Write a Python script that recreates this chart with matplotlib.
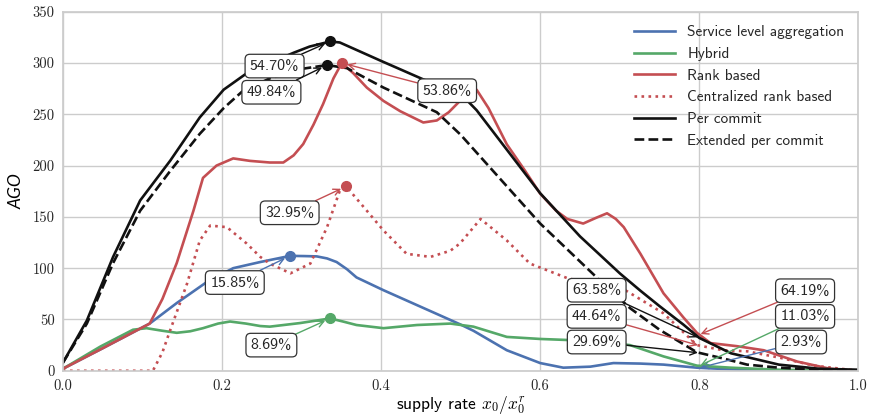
import numpy as np
import matplotlib.pyplot as plt

# AGO vs supply rate
x_service = [0, 0.05, 0.109, 0.143, 0.181, 0.214, 0.248, 0.2855, 0.303, 0.319, 0.332, 0.344,
             0.357, 0.369, 0.403, 0.445, 0.474, 0.5, 0.516, 0.558, 0.6, 0.629, 0.663, 0.692,
             0.726, 0.755, 0.797, 0.85, 0.9, 1.0]
y_service = [2, 22, 46, 66, 86.6, 100, 106, 112, 111.8, 111.5, 109.5, 106,
             99, 91, 78.5, 64, 54, 45, 39, 20, 7.5, 3, 4, 7.5,
             7, 6, 3, 1, 0.5, 0]

x_hybrid = [0, 0.047, 0.088, 0.105, 0.125, 0.143, 0.16, 0.176, 0.195, 0.21, 0.23, 0.248,
            0.26, 0.298, 0.336, 0.352, 0.369, 0.403, 0.445, 0.487, 0.516, 0.558, 0.6, 0.634,
            0.68, 0.713, 0.755, 0.797, 0.84, 0.9, 1.0]
y_hybrid = [2, 23.6, 40, 41.5, 39, 37, 38.5, 41.5, 46, 48, 46, 43.6,
            43, 46.5, 51, 48, 44.6, 41.5, 44.6, 46, 43, 33, 31, 30,
            28, 25, 14, 5, 3, 1, 0]

x_rank = [0, 0.05, 0.109, 0.125, 0.143, 0.164, 0.176, 0.193, 0.214, 0.235, 0.26, 0.277,
          0.29, 0.302, 0.315, 0.327, 0.34, 0.3505, 0.365, 0.382, 0.403, 0.424, 0.453, 0.47,
          0.485, 0.499, 0.52, 0.535, 0.558, 0.58, 0.6, 0.62, 0.634, 0.654, 0.67, 0.684,
          0.695, 0.705, 0.726, 0.755, 0.78, 0.797, 0.814, 0.847, 0.881, 0.923, 0.964, 1.0]
y_rank = [2, 22, 46, 70, 105, 156, 188, 200, 207, 204.6, 203, 203,
          210, 221, 240, 260, 285, 300, 290, 276, 263, 253, 242, 244,
          252, 263, 274, 256, 220.7, 196, 172.6, 156, 148, 143.5, 149, 153.5,
          148, 140, 114, 75.5, 52, 37, 27, 24, 20, 9, 2, 0]

x_central = [0, 0.113, 0.125, 0.135, 0.156, 0.172, 0.185, 0.206, 0.231, 0.248, 0.26, 0.286,
             0.311, 0.332, 0.348, 0.356, 0.382, 0.403, 0.432, 0.462, 0.487, 0.499, 0.525, 0.558,
             0.587, 0.635, 0.707, 0.755, 0.797, 0.83, 0.86, 0.902, 0.944, 1.0]
y_central = [0, 0, 18, 40, 85, 127, 141.5, 140, 124, 111, 104.5, 95,
             104.5, 140, 175.5, 179.7, 156, 136.7, 114, 111, 117, 124, 148, 127,
             104.5, 90, 78.5, 56, 25, 20, 19, 12.6, 5, 0]

x_commit = [0, 0.03, 0.063, 0.097, 0.135, 0.172, 0.202, 0.231, 0.26, 0.29, 0.31, 0.336,
            0.348, 0.4, 0.453, 0.5, 0.52, 0.6, 0.65, 0.7, 0.726, 0.75, 0.78, 0.8,
            0.84, 0.9, 0.95, 1.0]
y_commit = [8, 49, 111, 166, 205, 247, 274, 290, 300, 310, 316, 321,
            320, 302, 284, 270, 254, 173, 131, 95, 78, 63, 45, 32,
            17, 6, 2, 1]

x_ext = [0, 0.03, 0.063, 0.097, 0.135, 0.172, 0.202, 0.225, 0.26, 0.298, 0.332, 0.357,
         0.403, 0.47, 0.5, 0.537, 0.6, 0.675, 0.713, 0.75, 0.797, 0.83, 0.86, 0.9,
         0.95, 1.0]
y_ext = [8, 46, 105, 156, 195, 231, 256, 272, 285, 294, 298, 295,
         276, 252, 230, 198, 143.5, 88, 61, 40, 18, 12, 6, 3,
         1, 0.5]

labels = ['Service level aggregation', 'Hybrid', 'Rank based',
          'Centralized rank based', 'Per commit', 'Extended per commit']

# percentages at the peaks and at supply rate 0.8
peak_text = ['15.85%', '8.69%', '53.86%', '32.95%', '54.70%', '49.84%']
at08_text = ['2.93%', '11.03%', '64.19%', '44.64%', '63.58%', '29.69%']

plt.rcParams['font.family'] = 'cmss10'
plt.rcParams['mathtext.fontset'] = 'cm'
plt.rcParams['axes.formatter.use_mathtext'] = True
plt.rcParams['axes.unicode_minus'] = False
plt.rcParams['text.color'] = '.15'

blue = '#4C72B0'
green = '#55A868'
red = '#C44E52'
black = '#111111'

series = [
    (x_service, y_service, blue, '-'),
    (x_hybrid, y_hybrid, green, '-'),
    (x_rank, y_rank, red, '-'),
    (x_central, y_central, red, ':'),
    (x_commit, y_commit, black, '-'),
    (x_ext, y_ext, black, '--'),
]

fig = plt.figure(figsize=(8.75, 4.18), dpi=100)
ax = fig.add_axes([0.072, 0.113, 0.909, 0.859])

for (xs, ys, c, ls), lab in zip(series, labels):
    ax.plot(xs, ys, color=c, ls=ls, lw=1.9, label=lab)

# label positions (data coords) for the peak boxes and the x=0.8 boxes
peak_pos = [(0.216, 86), (0.262, 25), (0.483, 273), (0.285, 154), (0.266, 297), (0.262, 271.5)]
at08_pos = [(0.928, 28), (0.933, 53), (0.933, 78), (0.671, 53), (0.671, 78.5), (0.671, 28)]

box = dict(boxstyle='round,pad=0.3', fc='white', ec='.2', lw=0.9)

for (xs, ys, c, ls), txt, pos in zip(series, peak_text, peak_pos):
    i = int(np.argmax(ys))
    ax.plot(xs[i], ys[i], 'o', color=c, ms=7, zorder=4)
    ax.annotate(txt, xy=(xs[i], ys[i]), xytext=pos, ha='center', va='center',
                fontsize=11.5, bbox=box, zorder=5,
                arrowprops=dict(arrowstyle='->', color=c, lw=1, shrinkA=0, shrinkB=4))

for (xs, ys, c, ls), txt, pos in zip(series, at08_text, at08_pos):
    yv = np.interp(0.8, xs, ys)
    ax.annotate(txt, xy=(0.8, yv), xytext=pos, ha='center', va='center',
                fontsize=11.5, bbox=box, zorder=5,
                arrowprops=dict(arrowstyle='->', color=c, lw=1, shrinkA=0, shrinkB=1))

ax.set_xlim(0, 1)
ax.set_ylim(0, 350)
ax.set_xticks(np.arange(0, 1.01, 0.2))
ax.set_yticks(np.arange(0, 351, 50))
ax.set_xticklabels(['%.1f' % v for v in np.arange(0, 1.01, 0.2)], family='cmr10', fontsize=10.5)
ax.set_yticklabels(['%d' % v for v in np.arange(0, 351, 50)], family='cmr10', fontsize=10.5)
ax.tick_params(length=0, pad=6, colors='.15')
ax.grid(True, color='.8', lw=1)
ax.set_axisbelow(True)
for sp in ax.spines.values():
    sp.set_color('.8')
    sp.set_linewidth(1.25)

ax.set_xlabel(r'supply rate $x_0/x_0^r$', fontsize=12.5, labelpad=1)
ax.set_ylabel('AGO', fontsize=12.5, family='Lato', style='italic', labelpad=6)

ax.legend(loc='upper right', frameon=False, fontsize=11, handlelength=2.7)

fig.savefig('out.png', dpi=100)
